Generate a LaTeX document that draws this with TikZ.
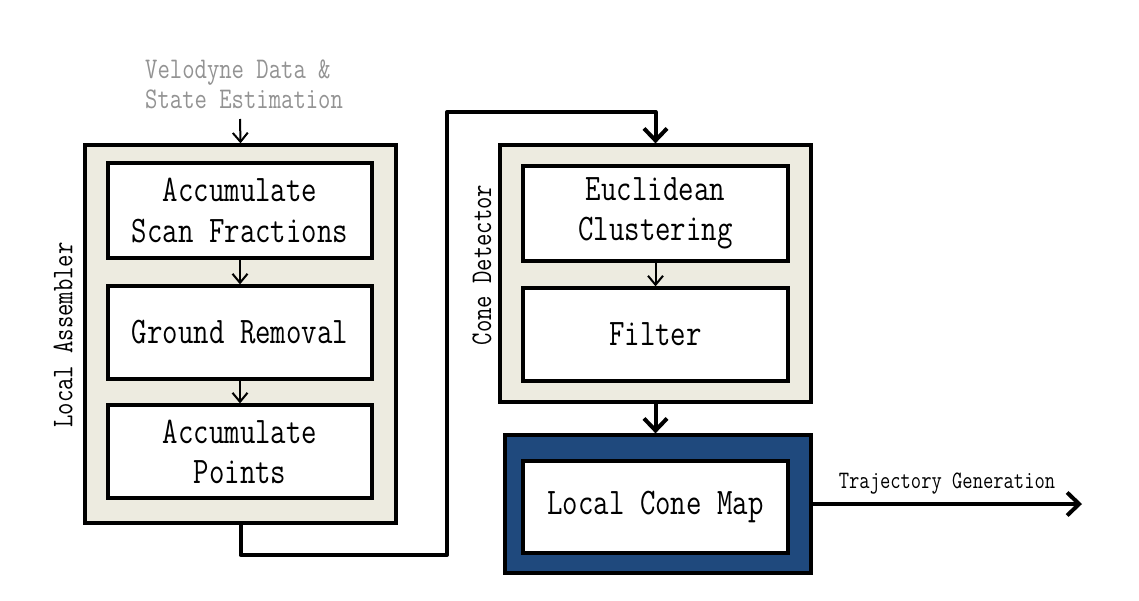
\documentclass[tikz,border=0pt]{standalone}
\usetikzlibrary{arrows.meta}
\definecolor{beige}{HTML}{EDEBE0}
\definecolor{darkblue}{HTML}{1F497D}
\definecolor{intext}{HTML}{939393}
\newcommand{\tallt}[1]{\scalebox{1}[1.25]{#1}}
\begin{document}
\begin{tikzpicture}[x=1pt,y=-1pt,
  outer/.style={draw=black,line width=3.3pt,fill=beige,inner sep=0pt},
  blueouter/.style={draw=black,line width=3.3pt,fill=darkblue,inner sep=0pt},
  inner/.style={draw=black,line width=3.3pt,fill=white,inner sep=0pt,align=center,
    font=\ttfamily\fontsize{30}{39}\selectfont},
  side/.style={rotate=90,font=\ttfamily\fontsize{24}{30}\selectfont,inner sep=0pt},
  small/.style={line width=2pt,-{Straight Barb[length=9pt,width=15pt,line width=2pt]}},
  big/.style={line width=4pt,-{Straight Barb[length=12pt,width=23pt,line width=4pt]}}]
\useasboundingbox (0,0) rectangle (1139,600);

% Local assembler
\node[outer,minimum width=311pt,minimum height=378pt] (la) at (240.5,334) {};
\node[inner,minimum width=264pt,minimum height=95pt] (acc) at (240,210.5) {\tallt{Accumulate}\\[1pt]\tallt{Scan Fractions}};
\node[inner,minimum width=264pt,minimum height=93pt] (gr) at (240,332.5) {\tallt{Ground Removal}};
\node[inner,minimum width=264pt,minimum height=93pt] (ap) at (240,451.5) {\tallt{Accumulate}\\[1pt]\tallt{Points}};
\node[side] (lalabel) at (63,335) {\tallt{Local Assembler}};

% Cone detector
\node[outer,minimum width=311pt,minimum height=257pt] (cd) at (655.5,273.5) {};
\node[inner,minimum width=265pt,minimum height=95pt] (ec) at (655.5,213.5) {\tallt{Euclidean}\\[1pt]\tallt{Clustering}};
\node[inner,minimum width=265pt,minimum height=93pt] (fi) at (655.5,334.5) {\tallt{Filter}};
\node[side] (cdlabel) at (482,265) {\tallt{Cone Detector}};

% Local cone map
\node[blueouter,minimum width=306pt,minimum height=138pt] (bm) at (658,504) {};
\node[inner,minimum width=265pt,minimum height=92pt] (lcm) at (655.5,507) {\tallt{Local Cone Map}};

% input text
\node[anchor=west,align=left,inner sep=0pt,text=intext,
  font=\ttfamily\fontsize{24}{31}\selectfont] (input) at (145,84.5) {\tallt{Velodyne Data \&}\\[-1pt]\tallt{State Estimation}};
\coordinate (inA) at (240,119);
\draw[small] (inA) -- (la.north);

% small arrows
\draw[small] (acc.south) -- (gr.north);
\draw[small] (gr.south) -- (ap.north);
\draw[small] (ec.south) -- (fi.north);

% big connectors
\coordinate (b1) at (447,555);
\coordinate (b2) at (447,112);
\draw[big,line join=round] (la.south) |- (b1) -- (b2) -| (cd.north);
\draw[big] (cd.south) -- (cd.south |- bm.north);
\coordinate (out) at (1082,504);
\draw[big] (bm.east) -- (out);
\node[inner sep=0pt,font=\ttfamily\fontsize{20}{24}\selectfont] (traj) at (947,484) {\tallt{Trajectory Generation}};
\end{tikzpicture}
\end{document}
